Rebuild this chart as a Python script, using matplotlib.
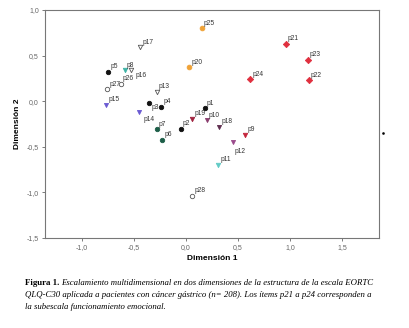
import matplotlib
matplotlib.use('Agg')
import matplotlib.pyplot as plt
from matplotlib.lines import Line2D

# item labels and their coordinates on the two dimensions
items = ['p1', 'p2', 'p3', 'p4', 'p5', 'p6', 'p7', 'p8', 'p9', 'p10',
         'p11', 'p12', 'p13', 'p14', 'p15', 'p16', 'p17', 'p18', 'p19', 'p20',
         'p21', 'p22', 'p23', 'p24', 'p25', 'p26', 'p27', 'p28']
dim1 = [0.18, -0.05, -0.36, -0.24, -0.75, -0.23, -0.28, -0.59, 0.57, 0.20,
        0.31, 0.45, -0.28, -0.45, -0.77, -0.53, -0.44, 0.32, 0.06, 0.03,
        0.96, 1.18, 1.17, 0.62, 0.15, -0.63, -0.76, 0.06]
dim2 = [-0.08, -0.30, -0.02, -0.06, 0.32, -0.42, -0.31, 0.34, -0.37, -0.21,
        -0.70, -0.45, 0.10, -0.12, -0.04, 0.34, 0.59, -0.28, -0.19, 0.37,
        0.63, 0.23, 0.45, 0.24, 0.80, 0.19, 0.13, -1.04]

# marker style per item: (marker, face colour, edge colour, size)
styles = {
    'p1': ('o', '#111111', '#111111', 3.2), 'p2': ('o', '#111111', '#111111', 3.2),
    'p3': ('o', '#111111', '#111111', 3.2), 'p4': ('o', '#111111', '#111111', 3.2),
    'p5': ('o', '#111111', '#111111', 3.2),
    'p6': ('o', '#1d5e48', '#1d5e48', 3.2), 'p7': ('o', '#1d5e48', '#1d5e48', 3.2),
    'p8': ('v', '#3fb3a6', '#3fb3a6', 3.2), 'p11': ('v', '#62cbc6', '#62cbc6', 3.2),
    'p9': ('v', '#c4263c', '#c4263c', 3.2), 'p19': ('v', '#a0233f', '#a0233f', 3.2),
    'p10': ('v', '#8a3d6e', '#8a3d6e', 3.0), 'p12': ('v', '#9a4a8c', '#9a4a8c', 3.0),
    'p18': ('v', '#5e2d4e', '#5e2d4e', 3.0),
    'p14': ('v', '#6a5ad2', '#6a5ad2', 3.0), 'p15': ('v', '#6a5ad2', '#6a5ad2', 3.0),
    'p13': ('v', 'white', '#555555', 3.2), 'p16': ('v', 'white', '#555555', 3.2),
    'p17': ('v', 'white', '#555555', 3.2),
    'p20': ('o', '#f0a236', '#f0a236', 3.4), 'p25': ('o', '#f0a236', '#f0a236', 3.4),
    'p21': ('D', '#e0303f', '#e0303f', 3.2), 'p22': ('D', '#e0303f', '#e0303f', 3.2),
    'p23': ('D', '#e0303f', '#e0303f', 3.2), 'p24': ('D', '#e0303f', '#e0303f', 3.2),
    'p26': ('o', 'white', '#555555', 3.2), 'p27': ('o', 'white', '#555555', 3.2),
    'p28': ('o', 'white', '#555555', 3.2),
}
# labels that sit below the marker instead of above
below = {'p3': (2, -1), 'p14': (3, -3), 'p12': (1, -4), 'p16': (3, -1)}

xticks = [-1.0, -0.5, 0.0, 0.5, 1.0, 1.5]
yticks = [-1.5, -1.0, -0.5, 0.0, 0.5, 1.0]

plt.rcParams['font.family'] = ['Liberation Sans', 'DejaVu Sans']

fig = plt.figure(figsize=(4.1, 3.28), dpi=100)
ax = fig.add_axes([0.1098, 0.2744, 0.8146, 0.6951])

for name, x, y in zip(items, dim1, dim2):
    m, fc, ec, s = styles[name]
    ax.plot(x, y, marker=m, mfc=fc, mec=ec, ms=s, mew=0.6, ls='none')
    off = below.get(name, (1.5, 1.2))
    va = 'top' if name in below else 'bottom'
    ax.annotate(name, (x, y), xytext=off, textcoords='offset points',
                fontsize=4.8, color='#333333', ha='left', va=va)

ax.set_xlim(-1.356, 1.856)
ax.set_ylim(-1.5, 1.0)
ax.set_xticks(xticks)
ax.set_yticks(yticks)
ax.set_xticklabels([f'{t:.1f}'.replace('.', ',') for t in xticks])
ax.set_yticklabels([f'{t:.1f}'.replace('.', ',') for t in yticks])
ax.tick_params(direction='out', length=2.5, width=0.6, colors='#666666',
               labelsize=5, pad=2)
for sp in ax.spines.values():
    sp.set_color('#777777')
    sp.set_linewidth(0.8)

ax.set_xlabel('Dimensión 1', fontsize=6, fontweight='bold', labelpad=3)
ax.set_ylabel('Dimensión 2', fontsize=6, fontweight='bold', labelpad=4)

# small stray dot right of the plot
fig.add_artist(Line2D([383 / 410], [1 - 133 / 328], marker='s', ms=0.8,
                      color='black', transform=fig.transFigure))

# caption
serif = ['Liberation Serif', 'DejaVu Serif']
fs = 6.3
x0 = 25 / 410
lines_y = [1 - 283 / 328, 1 - 295 / 328, 1 - 307 / 328]
fig.canvas.draw()
r = fig.canvas.get_renderer()
head = fig.text(x0, lines_y[0], 'Figura 1.', family=serif, fontweight='bold',
                fontsize=fs, va='center', ha='left')
bb = head.get_window_extent(r)
fig.text(bb.x1 / fig.bbox.width + 2 / 410, lines_y[0],
         'Escalamiento multidimensional en dos dimensiones de la estructura de la escala EORTC',
         family=serif, style='italic', fontsize=fs, va='center', ha='left')
fig.text(x0, lines_y[1],
         'QLQ-C30 aplicada a pacientes con cáncer gástrico (n= 208). Los ítems p21 a p24 corresponden a',
         family=serif, style='italic', fontsize=fs, va='center', ha='left')
fig.text(x0, lines_y[2], 'la subescala funcionamiento emocional.',
         family=serif, style='italic', fontsize=fs, va='center', ha='left')

fig.savefig('out.png', dpi=100)
